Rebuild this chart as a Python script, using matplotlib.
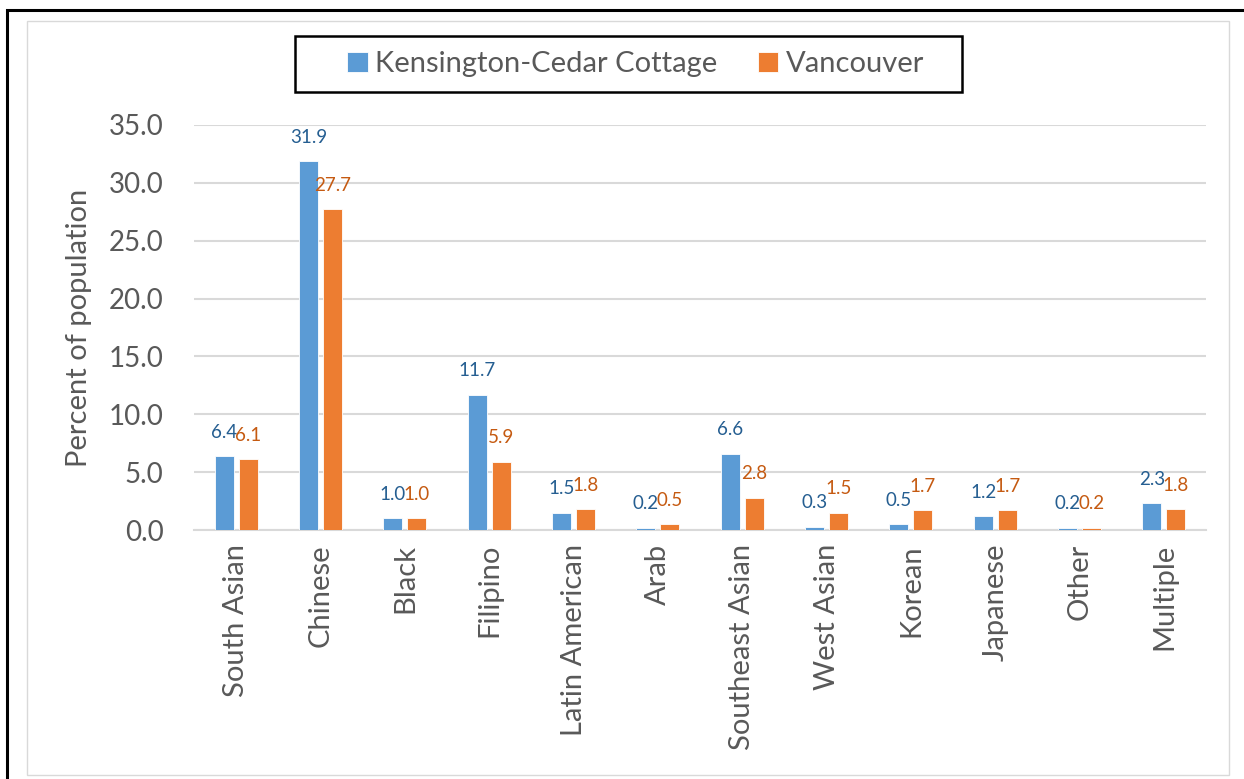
import numpy as np
import matplotlib.pyplot as plt
from matplotlib.patches import Rectangle

plt.rcParams['font.family'] = ['Lato', 'DejaVu Sans']

categories = ["South Asian", "Chinese", "Black", "Filipino", "Latin American", "Arab",
              "Southeast Asian", "West Asian", "Korean", "Japanese", "Other", "Multiple"]
kcc = [6.4, 31.9, 1.0, 11.7, 1.5, 0.2, 6.6, 0.3, 0.5, 1.2, 0.2, 2.3]
van = [6.1, 27.7, 1.0, 5.9, 1.8, 0.5, 2.8, 1.5, 1.7, 1.7, 0.2, 1.8]
series_names = ["Kensington-Cedar Cottage", "Vancouver"]

blue = "#5B9BD5"
orange = "#ED7D31"
grey_text = "#595959"
grid_col = "#D9D9D9"

W, H = 1244, 779
fig = plt.figure(figsize=(W / 100, H / 100), dpi=100)
ax = fig.add_axes([0.156, 0.3196, 0.8135, 0.52])

x = np.arange(len(categories))
w = 0.225
off = 0.143
b1 = ax.bar(x - off, kcc, w, color=blue, edgecolor="white", linewidth=0.6,
            label=series_names[0], zorder=3)
b2 = ax.bar(x + off, van, w, color=orange, edgecolor="white", linewidth=0.6,
            label=series_names[1], zorder=3)

for bars, vals, col in [(b1, kcc, "#255E91"), (b2, van, "#C55A11")]:
    for rect, v in zip(bars, vals):
        ax.annotate("%.1f" % v, (rect.get_x() + rect.get_width() / 2, v),
                    xytext=(0, 11), textcoords="offset points",
                    ha="center", va="bottom", fontsize=13.5, color=col)

ax.set_xlim(-0.5, len(categories) - 0.5)
ax.set_ylim(0, 35)
ax.set_yticks(np.arange(0, 35.1, 5))
ax.set_yticklabels(["%.1f" % t for t in np.arange(0, 35.1, 5)], fontsize=20, color=grey_text)
ax.set_xticks(x)
ax.set_xticklabels(categories, rotation=90, fontsize=21, color=grey_text)
ax.tick_params(length=0)
ax.tick_params(axis="y", pad=22)
ax.tick_params(axis="x", pad=10)
ax.yaxis.grid(True, color=grid_col, linewidth=1.5, zorder=0)
ax.set_axisbelow(True)
for s in ["top", "left", "right"]:
    ax.spines[s].set_visible(False)
ax.spines["bottom"].set_color(grid_col)
ax.spines["bottom"].set_linewidth(1.5)
ax.set_ylabel("Percent of population", fontsize=21, color=grey_text, labelpad=12)

leg = ax.legend(loc="center", bbox_to_anchor=(0.511, 0.9178), bbox_transform=fig.transFigure,
                ncol=2, fontsize=21, frameon=False, handlelength=0.7,
                handleheight=0.7, handletextpad=0.25, columnspacing=1.4,
                borderaxespad=0, labelcolor=grey_text)

# legend box, inner chart-area border and outer frame
fig.patches.append(Rectangle((295 / W, 1 - 92 / H), 667 / W, 56 / H,
                             transform=fig.transFigure, fill=False, edgecolor="black", linewidth=1.8))
fig.patches.append(Rectangle((27 / W, 1 - 775 / H), 1202 / W, 754 / H,
                             transform=fig.transFigure, fill=False, edgecolor=grid_col, linewidth=1))
fig.patches.append(Rectangle((7 / W, -0.05), 1.1, 1 - 10 / H + 0.05,
                             transform=fig.transFigure, fill=False, edgecolor="black", linewidth=2.2))

fig.savefig("out.png", dpi=100)
